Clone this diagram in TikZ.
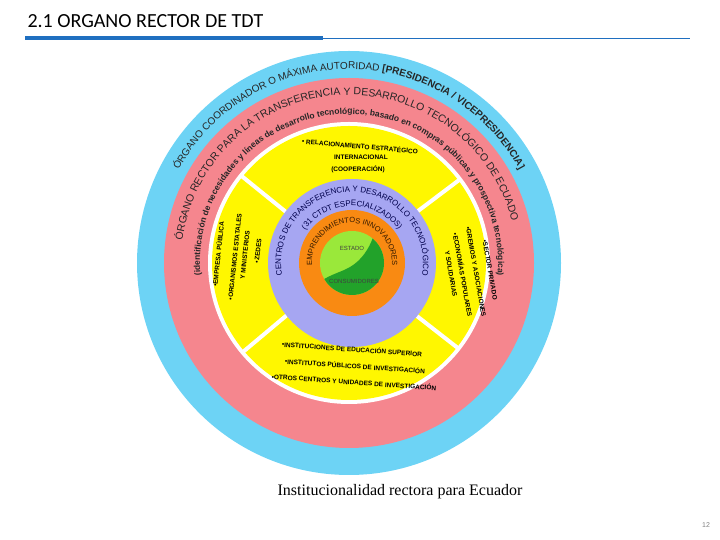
\documentclass[tikz,border=0pt]{standalone}
\usepackage{fontspec}
\setmainfont{Liberation Sans}
\newfontfamily\serifcap{Liberation Serif}
\newfontfamily\hdr{Carlito}
\usetikzlibrary{decorations.text,calc}
\definecolor{cblue}{HTML}{6DD3F5}
\definecolor{cpink}{HTML}{F5868E}
\definecolor{cyel}{HTML}{FFF700}
\definecolor{clav}{HTML}{A6A6F2}
\definecolor{corg}{HTML}{F98A12}
\definecolor{clg}{HTML}{9AE83A}
\definecolor{cdg}{HTML}{22A22A}
\definecolor{hblue}{HTML}{1F6FC0}
\tikzset{
  arctext/.style={decorate,decoration={text along path,text align=center,text color=#1}},
  ytext/.style={font=\fontsize{6.5}{7.5}\selectfont\bfseries,align=center,inner sep=0pt},
  divider/.style={white,line width=4pt}
}
\begin{document}
\begin{tikzpicture}[x=1pt,y=1pt]
\useasboundingbox (0,0) rectangle (720,540);
\coordinate (c) at (349,277);
\coordinate (ci) at (352,277);
% header
\node[anchor=west,font=\hdr\fontsize{20}{22}\selectfont] (title) at (24,519) {2.1 ORGANO RECTOR DE TDT};
\coordinate (b0) at (25,502); \coordinate (b1) at (323,502); \coordinate (b2) at (690,502);
\draw[hblue,line width=4pt] (b0) -- (b1);
\draw[hblue,line width=0.8pt] (b1) -- (b2);
% rings
\fill[cblue] (c) circle (212);
\fill[cpink] (c) circle (185);
\fill[white] (c) circle (141);
\fill[cyel] (c) circle (137);
\foreach \a in {141,37,220,-38} \draw[divider] (c) ++(\a:80) -- ++(\a:60);
\fill[clav] (ci) circle (84);
\fill[corg] (ci) circle (53);
\fill[clg] (ci) circle (32);
\coordinate (g1) at ($(ci)+(50:32)$);
\coordinate (g3) at ($(ci)+(-2,-4)$);
\fill[cdg] (g1) arc (50:-150:32) .. controls +(30:12) and +(-150:10) .. (g3)
  .. controls +(30:14) and +(-110:10) .. (g1) -- cycle;
% arc texts
\path[arctext=black!85,decoration={text={|\fontsize{10}{11}\selectfont|ÓRGANO COORDINADOR O MÁXIMA AUTORIDAD |\fontsize{10}{11}\selectfont\bfseries|[PRESIDENCIA / VICEPRESIDENCIA]}}] (c) ++(160:194) arc (160:20:194);
\path[arctext=black!85,decoration={text={|\fontsize{10.5}{11}\selectfont|ÓRGANO RECTOR PARA LA TRANSFERENCIA Y DESARROLLO TECNOLÓGICO DE ECUADOR}}] (c) ++(170:168) arc (170:14:168);
\path[arctext=black!85,decoration={text={|\fontsize{8.5}{9}\selectfont\bfseries|(identificación de necesidades y líneas de desarrollo tecnológico, basado en compras públicas y prospectiva tecnológica)}}] (c) ++(190:149) arc (190:-10:149);
\path[arctext=blue!30!black,decoration={text={|\fontsize{8}{9}\selectfont|CENTROS DE TRANSFERENCIA Y DESARROLLO TECNOLÓGICO}}] (ci) ++(205:71) arc (205:-25:71);
\path[arctext=blue!30!black,decoration={text={|\fontsize{8}{9}\selectfont|(31 CTDT ESPECIALIZADOS)}}] (ci) ++(155:57) arc (155:25:57);
\path[arctext=black!80!orange,decoration={text={|\fontsize{7.5}{9}\selectfont|EMPRENDIMIENTOS INNOVADORES}}] (ci) ++(210:40) arc (210:-30:40);
\node[font=\fontsize{6}{7}\selectfont,text=black!75] (estado) at (352,292) {ESTADO};
\node[font=\fontsize{6}{7}\selectfont,text=black!75] (cons) at (354,259) {CONSUMIDORES};
% yellow sectors
\node[ytext,rotate=-5] (t1) at (360,394) {• RELACIONAMIENTO ESTRATÉGICO};
\node[ytext] (t2) at (361,383) {INTERNACIONAL};
\node[ytext] (t3) at (358,371) {(COOPERACIÓN)};
\node[ytext,rotate=84] (l1) at (218,286) {•EMPRESA PÚBLICA};
\node[ytext,rotate=84] (l2) at (235,283) {•ORGANISMOS ESTATALES};
\node[ytext,rotate=84] (l3) at (245,285) {Y MINISTERIOS};
\node[ytext,rotate=84] (l4) at (258,289) {•ZEDES};
\node[ytext,rotate=-80] (r1) at (490,270) {•SECTOR PRIVADO};
\node[ytext,rotate=-80] (r2) at (476,268) {•GREMIOS Y ASOCIACIONES};
\node[ytext,rotate=-80] (r3) at (463,265) {•ECONOMÍAS POPULARES};
\node[ytext,rotate=-80] (r4) at (451,266) {Y SOLIDARIAS};
\node[ytext,rotate=-4] (b1t) at (352,191) {•INSTITUCIONES DE EDUCACIÓN SUPERIOR};
\node[ytext,rotate=-4] (b2t) at (355,174) {•INSTITUTOS PÚBLICOS DE INVESTIGACIÓN};
\node[ytext,rotate=-4] (b3t) at (354,158) {•OTROS CENTROS Y UNIDADES DE INVESTIGACIÓN};
% caption
\node[font=\serifcap\fontsize{16}{18}\selectfont] (cap) at (400,48) {Institucionalidad rectora para Ecuador};
\node[font=\fontsize{7}{8}\selectfont,text=gray] (pg) at (706,15) {12};
\end{tikzpicture}
\end{document}
